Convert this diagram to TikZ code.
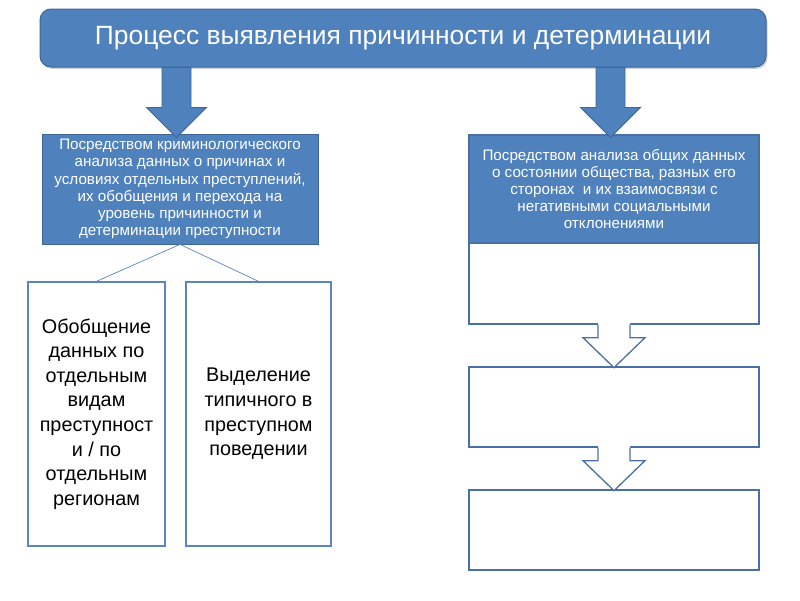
\documentclass[tikz,border=0pt]{standalone}
\usepackage{fontspec}
\setmainfont{Liberation Sans}
\usetikzlibrary{shadows,calc}
\definecolor{accent}{HTML}{4F81BD}
\definecolor{accdark}{HTML}{3F6698}
\definecolor{boxline}{HTML}{4A6FA5}
\definecolor{lightline}{HTML}{5B85BF}
\tikzset{
  titlebox/.style={draw=accdark, line width=1pt, fill=accent, rounded corners=11pt,
    drop shadow={shadow xshift=1.5pt, shadow yshift=-2pt, opacity=0.35},
    text=white, font=\fontsize{26.4}{30}\selectfont, inner sep=0pt},
  bluebox/.style={draw=accdark, line width=0.8pt, fill=accent, text=white, align=center,
    font=\fontsize{15.2}{17.2}\selectfont, inner sep=0pt},
  whitebox/.style={draw=boxline, line width=1.3pt, fill=white, inner sep=0pt},
  leafbox/.style={draw=lightline, line width=1.3pt, fill=white, align=center,
    font=\fontsize{19.8}{24.6}\selectfont, inner sep=0pt},
  bigarrowstyle/.style={draw=accdark, line width=0.8pt, fill=accent},
  smallarrowstyle/.style={draw=boxline, line width=1.3pt},
  linkline/.style={draw=lightline, line width=0.7pt},
  bigarrow/.pic={\path[bigarrowstyle] (-14.5,0) -- (-14.5,40) -- (-30,40) -- (0,70) -- (30,40) -- (14.5,40) -- (14.5,0) -- cycle;},
  smallarrow/.pic={\fill[white] (-16,-2) -- (-16,13) -- (-31,13) -- (0,43) -- (31,13) -- (16,13) -- (16,-2) -- cycle;
    \draw[smallarrowstyle, line join=miter] (-16,0) -- (-16,13) -- (-31,13) -- (0,43) -- (31,13) -- (16,13) -- (16,0);}
}
\begin{document}
\begin{tikzpicture}[x=1pt,y=-1pt]
\useasboundingbox (0,0) rectangle (800,600);

% top title
\node[titlebox, minimum width=726pt, minimum height=58pt] (title) at (403,38) {Процесс выявления причинности и детерминации};

% left branch
\node[bluebox, minimum width=276pt, minimum height=110pt] (lb) at (180,189)
  {Посредством криминологического\\анализа данных о причинах и\\условиях отдельных преступлений,\\их обобщения и перехода на\\уровень причинности и\\детерминации преступности};

\node[leafbox, minimum width=137pt, minimum height=264pt] (l1) at (96.5,414)
  {Обобщение\\данных по\\отдельным\\видам\\преступност\\и / по\\отдельным\\регионам};
\node[leafbox, minimum width=145pt, minimum height=264pt] (l2) at (258.5,414)
  {Выделение\\типичного в\\преступном\\поведении};

\draw[linkline] (lb.south) -- (l1.north);
\draw[linkline] (lb.south) -- (l2.north);

% right branch
\node[whitebox, minimum width=290pt, minimum height=189pt] (r0) at (614,229.5) {};
\node[bluebox, minimum width=290pt, minimum height=108pt, draw=boxline, line width=1.3pt] (rb) at (614,189)
  {Посредством анализа общих данных\\о состоянии общества, разных его\\сторонах \ и их взаимосвязи с\\негативными социальными\\отклонениями};
\node[whitebox, minimum width=290pt, minimum height=80pt] (r2) at (614,407) {};
\node[whitebox, minimum width=290pt, minimum height=80pt] (r3) at (614,530) {};

\pic at (r0.south) {smallarrow};
\pic at (r2.south) {smallarrow};

% big arrows
\pic at ($(title.south west) + (137,0)$) {bigarrow};
\pic at ($(title.south west) + (571,0)$) {bigarrow};
\end{tikzpicture}
\end{document}
